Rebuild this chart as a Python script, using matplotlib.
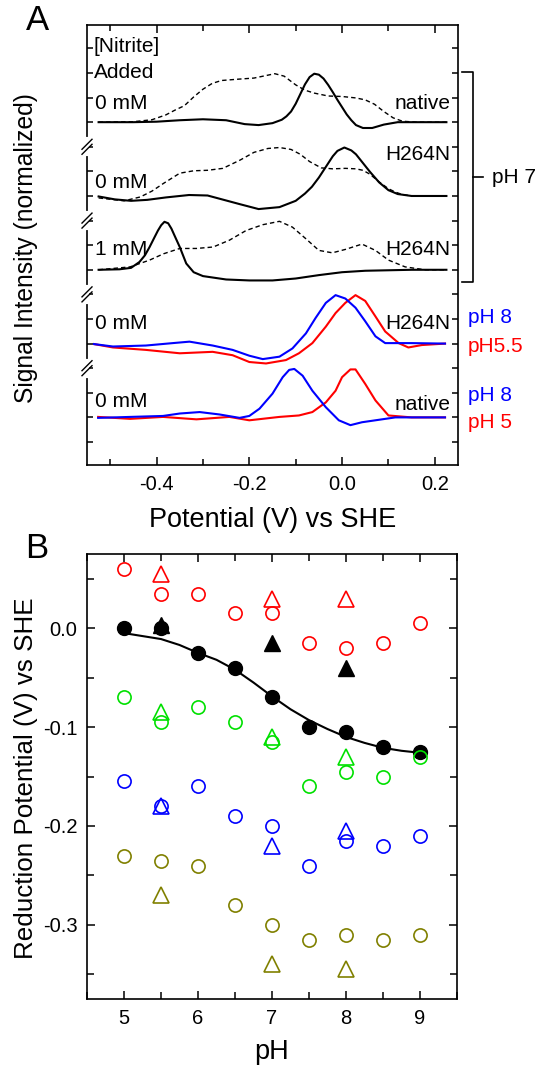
import matplotlib
matplotlib.use("Agg")
import matplotlib.pyplot as plt
from matplotlib.ticker import MultipleLocator, FixedLocator, FormatStrFormatter, NullFormatter

plt.rcParams['font.family'] = ['Liberation Sans', 'DejaVu Sans']
plt.rcParams['axes.unicode_minus'] = False

# ---------------- Panel A data (normalized signal, peak = 1) ----------------
t1_x = [-0.525, -0.45, -0.40, -0.35, -0.30, -0.25, -0.21, -0.18, -0.15, -0.13, -0.12, -0.11, -0.10, -0.09,
        -0.08, -0.07, -0.06, -0.05, -0.04, -0.03, -0.02, -0.01, 0.00, 0.01, 0.02, 0.03, 0.045, 0.065, 0.09,
        0.12, 0.16, 0.20, 0.225]
t1_y = [0, 0.0, 0.01, 0.04, 0.06, 0.04, -0.04, -0.06, -0.02, 0.05, 0.12, 0.22, 0.38, 0.58, 0.78, 0.93,
        1.0, 0.98, 0.90, 0.77, 0.62, 0.46, 0.31, 0.16, 0.04, -0.06, -0.12, -0.12, -0.05, 0.0, 0, 0, 0]
t1d_x = [-0.525, -0.45, -0.41, -0.38, -0.36, -0.34, -0.32, -0.30, -0.28, -0.26, -0.22, -0.19, -0.165,
         -0.145, -0.125, -0.10, -0.08, -0.06, -0.03, 0.00, 0.03, 0.05, 0.07, 0.09, 0.11, 0.13, 0.16, 0.225]
t1d_y = [0, 0.01, 0.05, 0.15, 0.25, 0.34, 0.52, 0.68, 0.80, 0.86, 0.89, 0.91, 0.96, 1.0, 0.95, 0.77,
         0.66, 0.60, 0.54, 0.53, 0.50, 0.46, 0.37, 0.22, 0.09, 0.02, 0, 0]

t2_x = [-0.525, -0.49, -0.455, -0.42, -0.38, -0.33, -0.29, -0.255, -0.22, -0.18, -0.135, -0.10, -0.08,
        -0.065, -0.05, -0.035, -0.02, -0.01, 0.005, 0.02, 0.03, 0.045, 0.06, 0.08, 0.10, 0.12, 0.15, 0.225]
t2_y = [-0.01, -0.07, -0.10, -0.08, -0.03, 0.02, 0.01, -0.08, -0.17, -0.27, -0.23, -0.10, 0.05, 0.19,
        0.38, 0.60, 0.82, 0.93, 1.0, 0.94, 0.86, 0.68, 0.50, 0.28, 0.12, 0.04, 0, 0]
t2d_x = [-0.525, -0.47, -0.435, -0.41, -0.385, -0.35, -0.32, -0.29, -0.257, -0.22, -0.19, -0.16, -0.135,
         -0.11, -0.09, -0.07, -0.045, -0.02, 0.007, 0.03, 0.045, 0.06, 0.08, 0.10, 0.115, 0.13, 0.15,
         0.18, 0.225]
t2d_y = [-0.04, -0.10, -0.02, 0.10, 0.26, 0.47, 0.52, 0.53, 0.57, 0.74, 0.90, 0.98, 1.0, 0.96, 0.86,
         0.71, 0.58, 0.56, 0.57, 0.56, 0.53, 0.45, 0.29, 0.15, 0.08, 0.03, 0, 0, 0]

t3_x = [-0.525, -0.48, -0.455, -0.437, -0.425, -0.415, -0.405, -0.397, -0.39, -0.383, -0.375, -0.368,
        -0.36, -0.35, -0.343, -0.336, -0.32, -0.30, -0.25, -0.20, -0.15, -0.10, -0.05, 0.0, 0.05, 0.10,
        0.15, 0.225]
t3_y = [0, 0.01, 0.04, 0.16, 0.30, 0.47, 0.66, 0.81, 0.92, 0.99, 0.96, 0.85, 0.68, 0.47, 0.30, 0.13,
        -0.05, -0.13, -0.20, -0.22, -0.22, -0.18, -0.11, -0.05, -0.02, -0.01, 0, 0]
t3d_x = [-0.525, -0.457, -0.415, -0.385, -0.35, -0.314, -0.278, -0.243, -0.207, -0.171, -0.135, -0.107,
         -0.078, -0.05, -0.021, 0.007, 0.043, 0.072, 0.10, 0.136, 0.179, 0.225]
t3d_y = [0.0, 0.06, 0.20, 0.33, 0.44, 0.44, 0.47, 0.61, 0.81, 0.93, 1.0, 0.88, 0.64, 0.40, 0.35, 0.42,
         0.53, 0.40, 0.20, 0.06, 0, 0]

t4b_x = [-0.535, -0.494, -0.423, -0.365, -0.329, -0.279, -0.236, -0.20, -0.171, -0.135, -0.107, -0.078,
         -0.057, -0.035, -0.014, 0.007, 0.029, 0.05, 0.072, 0.093, 0.15, 0.222]
t4b_y = [-0.01, -0.06, -0.04, 0.01, 0.04, -0.04, -0.13, -0.25, -0.32, -0.27, -0.10, 0.21, 0.53, 0.84,
         1.0, 0.93, 0.74, 0.46, 0.15, 0.01, 0.01, 0]
t4r_x = [-0.535, -0.494, -0.423, -0.35, -0.279, -0.236, -0.20, -0.164, -0.121, -0.093, -0.064, -0.035,
         -0.014, 0.007, 0.029, 0.05, 0.072, 0.093, 0.122, 0.143, 0.172, 0.222]
t4r_y = [-0.01, -0.08, -0.13, -0.20, -0.17, -0.24, -0.38, -0.41, -0.34, -0.20, 0.01, 0.35, 0.63, 0.84,
         1.0, 0.88, 0.56, 0.25, 0.01, -0.08, -0.03, 0]

t5b_x = [-0.526, -0.457, -0.386, -0.35, -0.307, -0.264, -0.221, -0.20, -0.178, -0.15, -0.128, -0.114,
         -0.103, -0.085, -0.064, -0.035, -0.007, 0.018, 0.043, 0.079, 0.115, 0.222]
t5b_y = [-0.01, 0.01, 0.03, 0.08, 0.11, 0.06, -0.01, 0.03, 0.18, 0.49, 0.83, 0.98, 1.0, 0.86, 0.55,
         0.21, -0.06, -0.16, -0.10, -0.05, 0, 0]
t5r_x = [-0.526, -0.457, -0.386, -0.314, -0.243, -0.20, -0.135, -0.093, -0.064, -0.035, -0.014, 0.0,
         0.018, 0.029, 0.05, 0.072, 0.10, 0.15, 0.222]
t5r_y = [0.01, -0.03, 0.01, -0.04, 0.01, -0.06, 0.01, 0.04, 0.11, 0.31, 0.55, 0.83, 0.99, 0.99, 0.69,
         0.35, 0.04, 0, 0]

baselines = [14, 11, 8, 5, 2]
breaks = [13, 10, 7, 4]

# ---------------- Panel B data ----------------
ph = [5, 5.5, 6, 6.5, 7, 7.5, 8, 8.5, 9]
red_circ = [0.06, 0.035, 0.035, 0.015, 0.015, -0.015, -0.02, -0.015, 0.005]
green_circ = [-0.07, -0.095, -0.08, -0.095, -0.115, -0.16, -0.145, -0.15, -0.13]
blue_circ = [-0.155, -0.18, -0.16, -0.19, -0.2, -0.24, -0.215, -0.22, -0.21]
olive_circ = [-0.23, -0.235, -0.24, -0.28, -0.30, -0.315, -0.31, -0.315, -0.31]
black_circ = [0.0, 0.0, -0.025, -0.04, -0.07, -0.10, -0.105, -0.12, -0.125]
ph_tri = [5.5, 7, 8]
red_tri = [0.055, 0.03, 0.03]
green_tri = [-0.085, -0.11, -0.13]
blue_tri = [-0.18, -0.22, -0.205]
olive_tri = [-0.27, -0.34, -0.345]
black_tri = [0.003, -0.015, -0.04]
fit_ph = [5, 5.25, 5.5, 5.75, 6, 6.25, 6.5, 6.75, 7, 7.25, 7.5, 7.75, 8, 8.25, 8.5, 8.75, 9]
fit_v = [-0.005, -0.008, -0.011, -0.017, -0.025, -0.032, -0.042, -0.055, -0.069, -0.082, -0.093,
         -0.102, -0.110, -0.116, -0.121, -0.124, -0.126]

RED, BLUE, GREEN, OLIVE = '#ff0000', '#0000ff', '#00e000', '#808000'
AMP = 1.97
FS = 15
TFS = 14.5

fig = plt.figure(figsize=(5.41, 10.68), dpi=100)
W, H = 541.0, 1068.0
ax1 = fig.add_axes([87 / W, 1 - 465 / H, 371 / W, 440 / H])
ax2 = fig.add_axes([87 / W, 1 - 999 / H, 370 / W, 445 / H])

# ---------------- Panel A ----------------
def sc(ys, base):
    return [base + AMP * v for v in ys]

solid = dict(color='black', lw=1.5)
dash = dict(color='black', lw=1.0, dashes=(3.2, 2.2))
ax1.plot(t1d_x, sc(t1d_y, baselines[0]), **dash)
ax1.plot(t1_x, sc(t1_y, baselines[0]), **solid)
ax1.plot(t2d_x, sc(t2d_y, baselines[1]), **dash)
ax1.plot(t2_x, sc(t2_y, baselines[1]), **solid)
ax1.plot(t3d_x, sc(t3d_y, baselines[2]), **dash)
ax1.plot(t3_x, sc(t3_y, baselines[2]), **solid)
ax1.plot(t4r_x, sc(t4r_y, baselines[3]), color=RED, lw=1.5)
ax1.plot(t4b_x, sc(t4b_y, baselines[3]), color=BLUE, lw=1.5)
ax1.plot(t5r_x, sc(t5r_y, baselines[4]), color=RED, lw=1.5)
ax1.plot(t5b_x, sc(t5b_y, baselines[4]), color=BLUE, lw=1.5)

ax1.set_xlim(-0.55, 0.25)
ax1.set_ylim(0.065, 17.95)
ax1.xaxis.set_major_locator(MultipleLocator(0.2))
ax1.xaxis.set_minor_locator(MultipleLocator(0.1))
ax1.xaxis.set_major_formatter(FormatStrFormatter('%.1f'))
ax1.yaxis.set_major_locator(FixedLocator(list(range(1, 18))))
ax1.yaxis.set_major_formatter(NullFormatter())
ax1.tick_params(axis='x', which='major', direction='in', length=6, width=1.1, top=True,
                labelsize=TFS, pad=7)
ax1.tick_params(axis='x', which='minor', direction='in', length=4, width=1.1, top=True)
ax1.tick_params(axis='y', which='major', direction='in', length=4, width=1.1, right=True)
for s in ax1.spines.values():
    s.set_linewidth(1.2)

# axis break marks on left spine
ytr = ax1.get_yaxis_transform()
px = 1 / 371.0
upx = 1 / 24.6
for b in breaks:
    ax1.plot([0, 0], [b - 0.3, b + 0.3], transform=ytr, color='white', lw=3, clip_on=False, zorder=10)
    for d in (-2.5, 2.5):
        ax1.plot([-5 * px, 5 * px], [b + (d - 5) * upx, b + (d + 5) * upx], transform=ytr,
                 color='black', lw=1.0, clip_on=False, zorder=11)

# bracket for pH 7
ax1.plot([1.010, 1.041, 1.041, 1.010], [16.05, 16.05, 7.52, 7.52], transform=ytr,
         color='black', lw=1.2, clip_on=False)
ax1.plot([1.041, 1.067], [11.78, 11.78], transform=ytr, color='black', lw=1.2, clip_on=False)
ax1.text(1.091, 11.54, 'pH 7', transform=ytr, fontsize=FS, va='baseline', ha='left')

# inline labels
ax1.text(-0.535, 16.87, '[Nitrite]', fontsize=FS, va='baseline', ha='left')
ax1.text(-0.535, 15.8, 'Added', fontsize=FS, va='baseline', ha='left')
left_lab = ['0 mM', '0 mM', '1 mM', '0 mM', '0 mM']
left_y = [14.52, 11.31, 8.6, 5.58, 2.41]
right_lab = ['native', 'H264N', 'H264N', 'H264N', 'native']
right_y = [14.52, 12.46, 8.6, 5.58, 2.3]
for lab, yy in zip(left_lab, left_y):
    ax1.text(-0.533, yy, lab, fontsize=FS, va='baseline', ha='left')
for lab, yy in zip(right_lab, right_y):
    ax1.text(0.233, yy, lab, fontsize=FS, va='baseline', ha='right')
ax1.text(1.027, 5.83, 'pH 8', transform=ytr, fontsize=FS, color=BLUE, va='baseline', ha='left')
ax1.text(1.027, 4.67, 'pH5.5', transform=ytr, fontsize=FS, color=RED, va='baseline', ha='left')
ax1.text(1.027, 2.68, 'pH 8', transform=ytr, fontsize=FS, color=BLUE, va='baseline', ha='left')
ax1.text(1.027, 1.56, 'pH 5', transform=ytr, fontsize=FS, color=RED, va='baseline', ha='left')

# ---------------- Panel B ----------------
ax2.plot(fit_ph, fit_v, color='black', lw=1.5, zorder=2)
ax2.plot(ph, black_circ, ls='none', marker='o', ms=10, color='black', zorder=3)
ax2.plot(ph_tri, black_tri, ls='none', marker='^', ms=11, color='black', zorder=3)
for ys, c in [(red_circ, RED), (green_circ, GREEN), (blue_circ, BLUE), (olive_circ, OLIVE)]:
    ax2.plot(ph, ys, ls='none', marker='o', ms=9.5, mfc='none', mec=c, mew=1.2, zorder=4)
for ys, c in [(red_tri, RED), (green_tri, GREEN), (blue_tri, BLUE), (olive_tri, OLIVE)]:
    ax2.plot(ph_tri, ys, ls='none', marker='^', ms=11, mfc='none', mec=c, mew=1.2, zorder=4)

ax2.set_xlim(4.5, 9.5)
ax2.set_ylim(-0.375, 0.075)
ax2.xaxis.set_major_locator(MultipleLocator(1))
ax2.xaxis.set_minor_locator(MultipleLocator(0.5))
ax2.yaxis.set_major_locator(MultipleLocator(0.1))
ax2.yaxis.set_minor_locator(MultipleLocator(0.05))
ax2.yaxis.set_major_formatter(FormatStrFormatter('%.1f'))
ax2.tick_params(which='major', direction='in', length=6, width=1.1, top=True, right=True,
                labelsize=TFS, pad=7)
ax2.tick_params(which='minor', direction='in', length=5, width=1.1, top=True, right=True)
for s in ax2.spines.values():
    s.set_linewidth(1.2)

# ---------------- labels ----------------
fig.text(273 / W, 1 - 526.7 / H, 'Potential (V) vs SHE', fontsize=19.5, ha='center', va='baseline')
fig.text(26 / W, 1 - 248 / H, 'Signal Intensity (normalized)', fontsize=17.7, ha='center',
         va='center', rotation=90)
fig.text(272 / W, 1 - 1059 / H, 'pH', fontsize=19.5, ha='center', va='baseline')
fig.text(26 / W, 1 - 778 / H, 'Reduction Potential (V) vs SHE', fontsize=18.7, ha='center',
         va='center', rotation=90)
fig.text(37 / W, 1 - 20 / H, 'A', fontsize=25, ha='center', va='center')
fig.text(37 / W, 1 - 548 / H, 'B', fontsize=25, ha='center', va='center')

fig.savefig('out.png', dpi=100)
